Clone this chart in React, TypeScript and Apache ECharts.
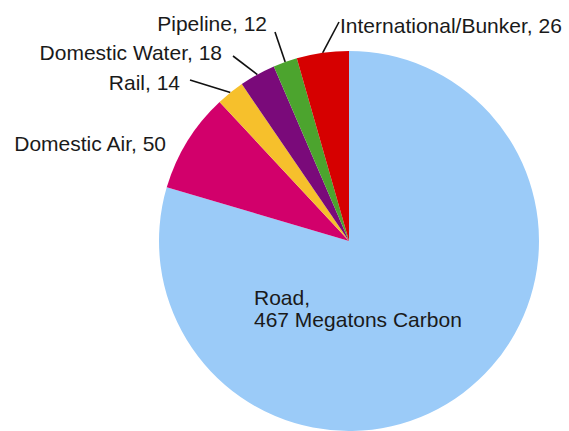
import React, { useEffect, useRef } from 'react';
import * as echarts from 'echarts';

const categories = ['Road', 'Domestic Air', 'Rail', 'Domestic Water', 'Pipeline', 'International/Bunker'];
const values = [467, 50, 14, 18, 12, 26];
const colors = ['#9BCBF8', '#D2006B', '#F6C02C', '#7A0A7A', '#4CA42E', '#D60000'];
const unit = 'Megatons Carbon';

// label placement (annotation layout only)
const labelPlacement: { x: number; y: number; align: string; end?: number[] }[] = [
  { x: 254, y: 308, align: 'left' },
  { x: 166, y: 143, align: 'right' },
  { x: 180, y: 82, align: 'right', end: [190, 80] },
  { x: 222, y: 52, align: 'right', end: [233, 56] },
  { x: 267, y: 23, align: 'right', end: [275, 32] },
  { x: 340, y: 25, align: 'left', end: [339, 22] },
];

const FONT = '"Liberation Sans", Arial, Helvetica, sans-serif';

export default function App() {
  const ref = useRef<HTMLDivElement>(null);
  useEffect(() => {
    if (!ref.current) return;
    const chart = echarts.init(ref.current, undefined, { renderer: 'svg' });
    const data = categories.map((name, i) => {
      const item: any = { name, value: values[i], itemStyle: { color: colors[i] } };
      if (i === 0) {
        item.label = { position: 'inside', formatter: `{b},\n{c} ${unit}`, lineHeight: 22 };
        item.labelLine = { show: false };
      }
      if (i === 1) item.labelLine = { show: false };
      return item;
    });
    chart.setOption({
      animation: false,
      backgroundColor: '#ffffff',
      series: [
        {
          type: 'pie',
          center: [349, 241],
          radius: 190,
          startAngle: 90,
          clockwise: true,
          avoidLabelOverlap: false,
          itemStyle: { borderWidth: 0 },
          emphasis: { disabled: true },
          label: {
            show: true,
            position: 'outside',
            formatter: '{b}, {c}',
            fontFamily: FONT,
            fontSize: 21,
            color: '#1a1a1a',
          },
          labelLine: {
            show: true,
            length: 12,
            length2: 0,
            lineStyle: { color: '#111111', width: 1.6 },
          },
          labelLayout: (params: any) => {
            const p = labelPlacement[params.dataIndex];
            const out: any = {
              x: p.x,
              y: p.y,
              align: p.align,
              verticalAlign: 'middle',
            };
            if (p.end && params.labelLinePoints && params.labelLinePoints[0]) {
              const s = params.labelLinePoints[0];
              out.labelLinePoints = [s, p.end, p.end];
            }
            return out;
          },
          data,
        },
      ],
    });
    return () => chart.dispose();
  }, []);
  return (
    <div
      ref={ref}
      style={{ position: 'absolute', left: 0, top: 0, width: 569, height: 431, background: '#fff' }}
    />
  );
}
